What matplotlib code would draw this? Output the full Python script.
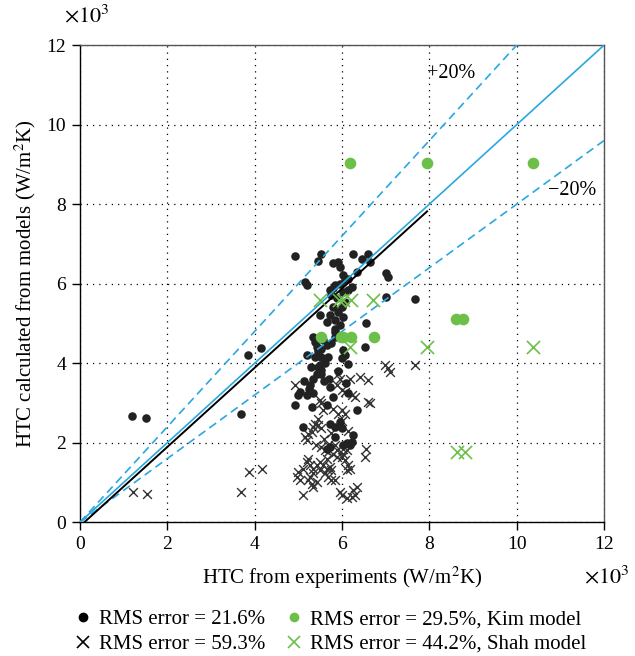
import numpy as np
import matplotlib
matplotlib.use("Agg")
import matplotlib.pyplot as plt
from matplotlib.lines import Line2D

plt.rcParams["font.family"] = ["Liberation Serif", "DejaVu Serif"]
plt.rcParams["mathtext.fontset"] = "stix"

# values in units of 10^3 W/m2K
# this study, circles (RMS 21.6%)
circ_x = [1.18, 1.51, 3.68, 3.85, 4.15, 4.92, 5.53, 5.80, 5.92, 5.95, 6.26, 6.45, 6.60, 6.64,
          6.03, 6.35, 5.45, 5.15, 5.19, 7.02, 7.06, 7.02, 7.67, 5.72, 5.80, 5.84, 5.95, 6.07,
          6.14, 6.22, 6.14, 6.03, 5.76, 5.88, 6.07, 5.80, 5.99, 5.92, 5.72, 5.50, 5.65, 5.84,
          6.03, 5.95, 5.84, 6.56, 5.34, 5.38, 5.57, 5.65, 5.42, 5.53, 5.84, 5.84, 6.03, 6.07,
          5.99, 6.14, 5.19, 5.38, 5.53, 5.69, 5.50, 5.53, 5.42, 6.53, 5.53, 5.34, 5.27, 5.04,
          5.00, 5.19, 5.34, 5.72, 5.80, 4.92, 5.31, 5.65, 6.14, 6.34, 5.11, 5.72, 5.84, 5.95,
          5.99, 5.84, 6.26, 6.22, 6.11, 6.03, 6.18, 5.65, 5.72, 5.60, 5.46, 5.70, 5.90, 6.10,
          5.45, 5.62, 5.75, 5.30, 5.25, 5.12]
circ_y = [2.67, 2.62, 2.72, 4.20, 4.38, 6.69, 6.74, 6.51, 6.55, 6.42, 6.76, 6.63, 6.74, 6.55,
          6.21, 6.30, 6.58, 6.05, 5.96, 6.26, 6.16, 5.67, 5.61, 5.84, 5.88, 5.96, 6.00, 6.09,
          6.13, 5.92, 5.84, 5.79, 5.71, 5.63, 5.54, 5.42, 5.42, 5.29, 5.21, 5.21, 5.04, 5.08,
          5.17, 4.96, 4.87, 5.00, 4.66, 4.54, 4.58, 4.45, 4.41, 4.37, 4.79, 4.66, 4.33, 4.20,
          4.12, 3.99, 4.20, 4.16, 4.16, 4.16, 3.95, 3.82, 3.74, 4.41, 3.74, 3.61, 3.45, 3.28,
          3.19, 3.19, 3.24, 3.40, 3.15, 2.94, 2.90, 2.94, 3.24, 2.82, 2.40, 2.48, 2.40, 2.52,
          2.36, 2.15, 2.19, 2.02, 1.98, 1.94, 1.94, 1.85, 1.89, 3.55, 3.90, 3.60, 3.80, 3.50,
          4.30, 4.00, 4.50, 3.90, 3.35, 3.55]

# this study, crosses (RMS 59.3%)
cross_x = [1.21, 1.53, 3.69, 3.88, 4.16, 5.92, 5.95, 6.18, 6.41, 6.60, 4.92, 5.88, 5.99, 6.07,
           6.22, 6.30, 6.98, 7.06, 7.10, 7.67, 5.50, 5.53, 5.57, 6.60, 6.64, 5.80, 5.99, 6.07,
           5.92, 5.38, 5.46, 5.34, 5.53, 5.15, 5.23, 5.31, 5.19, 5.53, 5.61, 5.69, 5.84, 5.88,
           6.03, 6.11, 5.99, 6.07, 6.56, 6.53, 5.23, 5.19, 5.27, 5.11, 5.34, 5.42, 5.50, 5.57,
           5.65, 5.72, 5.76, 5.50, 5.61, 5.69, 5.76, 5.34, 5.27, 5.00, 4.96, 5.04, 5.23, 5.31,
           5.34, 5.11, 5.42, 6.14, 6.18, 6.11, 6.34, 6.26, 5.95, 5.99, 6.11, 6.22, 6.30, 5.65,
           5.80, 5.88, 6.03, 5.69, 5.45, 5.60, 6.00, 5.75, 5.40, 5.85, 6.15]
cross_y = [0.76, 0.72, 0.76, 1.27, 1.33, 3.74, 3.61, 3.61, 3.66, 3.57, 3.45, 3.45, 3.32, 3.28,
           3.19, 3.15, 3.95, 3.87, 3.78, 3.95, 3.07, 2.99, 2.82, 3.03, 2.99, 2.86, 2.82, 2.73,
           2.73, 2.48, 2.44, 2.40, 2.36, 2.15, 2.23, 2.27, 2.06, 1.89, 1.81, 1.94, 1.94, 1.81,
           1.85, 1.81, 1.64, 1.56, 1.85, 1.64, 1.60, 1.52, 1.43, 1.35, 1.35, 1.43, 1.52, 1.43,
           1.35, 1.39, 1.31, 1.31, 1.23, 1.14, 1.06, 1.23, 1.14, 1.27, 1.14, 1.06, 1.06, 0.97,
           0.89, 0.68, 1.01, 1.43, 1.35, 1.31, 0.89, 0.80, 0.76, 0.68, 0.60, 0.64, 0.68, 1.60,
           1.72, 1.64, 1.72, 1.77, 2.60, 2.10, 2.55, 2.25, 1.95, 1.05, 2.30]

# Kim model (RMS 29.5%)
kim_x = [6.18, 7.95, 10.37, 5.53, 5.98, 6.03, 6.20, 6.74, 8.61, 8.78]
kim_y = [9.03, 9.03, 9.03, 4.65, 4.65, 4.65, 4.65, 4.65, 5.10, 5.10]

# Shah model (RMS 44.2%)
shah_x = [5.50, 5.94, 6.02, 6.20, 6.72, 6.18, 7.94, 10.38, 8.63, 8.82]
shah_y = [5.58, 5.58, 5.58, 5.58, 5.58, 4.41, 4.41, 4.41, 1.77, 1.77]

# fitted line end points
fit_x = [0.10, 7.95]
fit_y = [0.00, 7.82]

blue = "#29a8e0"
green = "#6cc04a"

fig = plt.figure(figsize=(6.35, 6.56), dpi=100)
ax = fig.add_axes([0.126, 0.204, 0.825, 0.727])

ref = np.array([0, 12])
ax.plot(ref, ref, color=blue, lw=1.2, zorder=3)
ax.plot(ref, 1.2 * ref, color=blue, lw=1.2, ls=(0, (5, 3)), zorder=3)
ax.plot(ref, 0.8 * ref, color=blue, lw=1.2, ls=(0, (5, 3)), zorder=3)
ax.plot(fit_x, fit_y, color="black", lw=1.4, zorder=4)

ax.scatter(cross_x, cross_y, marker="x", s=40, color="#333333", lw=1.0, zorder=2)
ax.scatter(circ_x, circ_y, marker="o", s=38, color="#222222", lw=0, zorder=2)
ax.scatter(kim_x, kim_y, marker="o", s=70, color=green, lw=0, zorder=5)
ax.scatter(shah_x, shah_y, marker="x", s=90, color=green, lw=1.2, zorder=5)

ax.text(7.95, 11.3, "+20%", fontsize=14.5, va="center", ha="left")
ax.text(10.72, 8.35, "\u221220%", fontsize=14.5, va="center", ha="left")

ax.set_xlim(0, 12)
ax.set_ylim(0, 12)
ax.set_xticks(np.arange(0, 13, 2))
ax.set_yticks(np.arange(0, 13, 2))
ax.grid(True, color="black", ls=(0, (1, 4)), lw=0.9)
ax.tick_params(labelsize=14, direction="out", length=6, width=1, pad=4)
ax.set_xlabel("HTC from experiments (W/m$^2$K)", fontsize=15, labelpad=8)
ax.set_ylabel("HTC calculated from models (W/m$^2$K)", fontsize=15, labelpad=6)
for s in ax.spines.values():
    s.set_linewidth(1.0)
ax.spines["top"].set_color("#555555")
ax.spines["right"].set_color("#555555")

fig.text(0.1, 0.975, r"$\times10^3$", fontsize=16, ha="left", va="center")
fig.text(0.955, 0.12, r"$\times10^3$", fontsize=16, ha="center", va="center")

handles = [
    Line2D([], [], marker="o", ls="", color="black", markersize=6),
    Line2D([], [], marker="x", ls="", color="black", markersize=8, mew=1.2),
    Line2D([], [], marker="o", ls="", color=green, markersize=6),
    Line2D([], [], marker="x", ls="", color=green, markersize=8, mew=1.2),
]
labels = ["RMS error = 21.6%", "RMS error = 59.3%",
          "RMS error = 29.5%, Kim model", "RMS error = 44.2%, Shah model"]
fig.legend(handles, labels, ncol=2, loc="center left", bbox_to_anchor=(0.118, 0.037),
           frameon=False, fontsize=15, handletextpad=0.35, columnspacing=1.0,
           labelspacing=0.25, handlelength=0.8, borderaxespad=0, borderpad=0)

plt.savefig("out.png", dpi=100)
